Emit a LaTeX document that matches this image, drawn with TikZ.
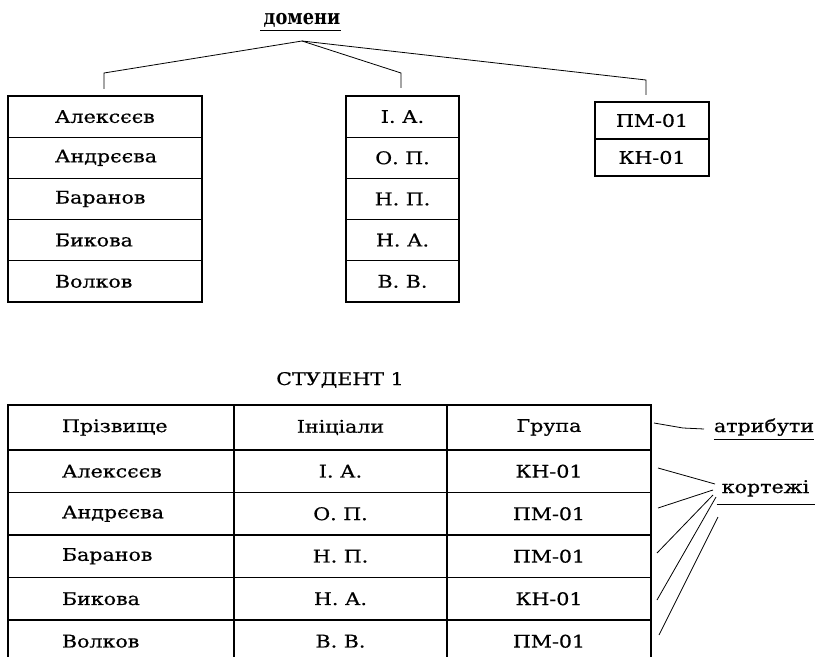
\documentclass[tikz,border=0pt]{standalone}
\usepackage{fontspec}
\setmainfont{DejaVu Serif}[FakeStretch=1.18, FakeBold=0.6]
\newfontfamily\domfont{DejaVu Serif}[FakeStretch=0.85]
\tikzset{
  tb/.style={draw, line width=1.1bp, inner sep=0pt, font=\fontsize{17.5}{20}\selectfont},
  lcell/.style={tb, minimum height=41.2bp, text width=100bp, inner xsep=47bp, align=left},
  mcell/.style={tb, minimum height=41.2bp, minimum width=113bp},
  rcell/.style={tb, minimum height=37bp, minimum width=114bp},
  c1/.style={tb, minimum height=#1, text width=118bp, inner xsep=54bp, align=left},
  c2/.style={tb, minimum height=#1, minimum width=213bp},
  c3/.style={tb, minimum height=#1, minimum width=204bp},
  lbl/.style={inner sep=0pt, font=\fontsize{17.5}{20}\selectfont},
  con/.style={line width=0.8bp},
  uline/.style={line width=1bp}
}
\begin{document}
\begin{tikzpicture}[x=1bp,y=-1bp]
\useasboundingbox (0,0) rectangle (815,657);
\clip (0,0) rectangle (815,657);
% domains label
\node[inner sep=0pt, anchor=base, font=\domfont\bfseries\fontsize{21}{24}\selectfont] (dom) at (302,25) {домени};
\draw[uline] ([yshift=-6bp]dom.base west) ++(-3,0) -- ([yshift=-6bp]dom.base east);
\coordinate (apex) at (302,41);
\coordinate (lcorner) at (104,73);
\coordinate (lend) at (104,89);
\coordinate (mcorner) at (401,73);
\coordinate (mend) at (401,88);
\coordinate (rcorner) at (646,80);
\coordinate (rend) at (646,95);
\draw[con] (apex) -- (lcorner) -- (lend);
\draw[con] (apex) -- (mcorner) -- (mend);
\draw[con] (apex) -- (rcorner) -- (rend);
% left domain
\node[lcell] (a1) at (105,116.6) {Алексєєв};
\node[lcell] (a2) at (105,157.8) {Андрєєва};
\node[lcell] (a3) at (105,199.0) {Баранов};
\node[lcell] (a4) at (105,240.2) {Бикова};
\node[lcell] (a5) at (105,281.4) {Волков};
% middle domain
\node[mcell] (b1) at (402.5,116.6) {І. А.};
\node[mcell] (b2) at (402.5,157.8) {О. П.};
\node[mcell] (b3) at (402.5,199.0) {Н. П.};
\node[mcell] (b4) at (402.5,240.2) {Н. А.};
\node[mcell] (b5) at (402.5,281.4) {В. В.};
% right domain
\node[rcell] (g1) at (652,120.5) {ПМ-01};
\node[rcell] (g2) at (652,157.5) {КН-01};
% relation
\node[lbl, anchor=base] (title) at (340,385) {СТУДЕНТ 1};
\node[c1=45bp] (h1) at (121,427.5) {Прізвище};
\node[c2=45bp] (h2) at (340.5,427.5) {Ініціали};
\node[c3=45bp] (h3) at (549,427.5) {Група};
\node[c1=42.5bp] (r11) at (121,471.25) {Алексєєв};
\node[c2=42.5bp] (r12) at (340.5,471.25) {І. А.};
\node[c3=42.5bp] (r13) at (549,471.25) {КН-01};
\node[c1=42.5bp] (r21) at (121,513.75) {Андрєєва};
\node[c2=42.5bp] (r22) at (340.5,513.75) {О. П.};
\node[c3=42.5bp] (r23) at (549,513.75) {ПМ-01};
\node[c1=42.5bp] (r31) at (121,556.25) {Баранов};
\node[c2=42.5bp] (r32) at (340.5,556.25) {Н. П.};
\node[c3=42.5bp] (r33) at (549,556.25) {ПМ-01};
\node[c1=42.5bp] (r41) at (121,598.75) {Бикова};
\node[c2=42.5bp] (r42) at (340.5,598.75) {Н. А.};
\node[c3=42.5bp] (r43) at (549,598.75) {КН-01};
\node[c1=42.5bp] (r51) at (121,641.25) {Волков};
\node[c2=42.5bp] (r52) at (340.5,641.25) {В. В.};
\node[c3=42.5bp] (r53) at (549,641.25) {ПМ-01};
% annotations
\node[lbl, anchor=base] (atr) at (764,432) {атрибути};
\draw[uline] ([yshift=-7bp]atr.base west) -- ([yshift=-7bp]atr.base east);
\node[lbl, anchor=base] (kor) at (765.5,493) {кортежі};
\draw[uline] ([yshift=-11bp,xshift=-5bp]kor.base west) -- ([yshift=-11bp,xshift=7bp]kor.base east);
\coordinate (a0) at (654,423);
\coordinate (abend) at (683,428);
\coordinate (aend) at (704,429);
\draw[con] (a0) -- (abend) -- (aend);
\coordinate (k1) at (658,468); \coordinate (e1) at (715,484);
\coordinate (k2) at (658,508); \coordinate (e2) at (713,490);
\coordinate (k3) at (657,553); \coordinate (e3) at (713,495);
\coordinate (k4) at (657,600); \coordinate (e4) at (716,497);
\coordinate (k5) at (659,635); \coordinate (e5) at (718,517);
\foreach \i in {1,...,5} \draw[con] (k\i) -- (e\i);
\end{tikzpicture}
\end{document}
